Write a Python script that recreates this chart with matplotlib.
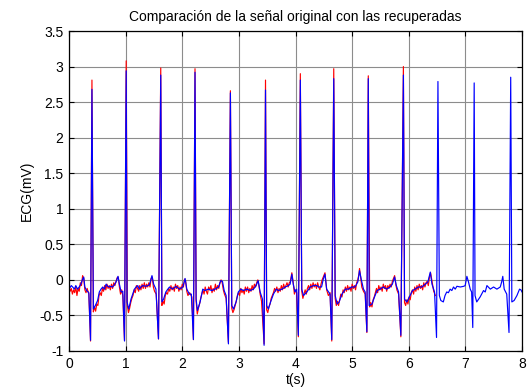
import matplotlib
matplotlib.use('Agg')
from matplotlib import pyplot as plt

# Blue: recovered ECG signal (t in s, amplitude in mV)
blue_t = [0.00, 0.04, 0.065, 0.095, 0.12, 0.15, 0.18, 0.21, 0.24, 0.26, 0.28, 0.31, 0.35, 0.38, 0.405,
          0.43, 0.465, 0.505, 0.535, 0.565, 0.595, 0.625, 0.655, 0.685, 0.71, 0.74, 0.77, 0.80, 0.83, 0.865,
          0.89, 0.92, 0.95, 0.98, 1.01,
          1.025, 1.055, 1.095, 1.125, 1.155, 1.185, 1.215, 1.24, 1.27, 1.30, 1.36, 1.42, 1.465, 1.495, 1.535,
          1.58, 1.62,
          1.64, 1.67, 1.71, 1.745, 1.775, 1.83, 1.89, 1.95, 2.01, 2.05, 2.08, 2.125, 2.16, 2.197, 2.225,
          2.244, 2.268, 2.315, 2.362, 2.40, 2.46, 2.52, 2.58, 2.64, 2.68, 2.71, 2.74, 2.774, 2.815, 2.85,
          2.874, 2.904, 2.95, 2.99, 3.033, 3.08, 3.14, 3.20, 3.257, 3.304, 3.34, 3.375, 3.416, 3.445, 3.47,
          3.49, 3.52, 3.56, 3.61, 3.66, 3.70, 3.76, 3.82, 3.875, 3.905, 3.935, 3.96, 3.99, 4.02, 4.05, 4.085,
          4.11, 4.14, 4.20, 4.26, 4.32, 4.38, 4.405, 4.46, 4.49, 4.52, 4.55, 4.61, 4.64, 4.675,
          4.70, 4.735, 4.77, 4.82, 4.88, 4.935, 4.99, 5.05, 5.10, 5.13, 5.16, 5.20, 5.23, 5.26, 5.285,
          5.30, 5.35, 5.395, 5.44, 5.495, 5.55, 5.61, 5.67, 5.71, 5.75, 5.78, 5.82, 5.86, 5.905,
          5.925, 5.965, 6.01, 6.065, 6.11, 6.17, 6.23, 6.29, 6.337, 6.38, 6.41, 6.455, 6.49, 6.515,
          6.54, 6.566, 6.61, 6.64, 6.67, 6.70, 6.73, 6.76, 6.79, 6.82, 6.85, 6.91, 6.97, 6.996, 7.026, 7.055,
          7.085, 7.11, 7.13, 7.155,
          7.17, 7.20, 7.26, 7.32, 7.35, 7.38, 7.44, 7.497, 7.556, 7.615, 7.64, 7.66, 7.685, 7.73, 7.77, 7.80,
          7.82, 7.86, 7.91, 7.956, 7.98, 8.00]
blue_v = [-0.13, -0.08, -0.10, -0.13, -0.08, -0.13, -0.10, -0.06, 0.01, 0.04, -0.10, -0.15, -0.18, -0.85, 2.68,
          -0.41, -0.36, -0.29, -0.17, -0.13, -0.10, -0.13, -0.06, -0.09, -0.10, -0.09, -0.10, -0.07, -0.03, 0.05,
          -0.06, -0.17, -0.16, -0.86, 2.94,
          -0.31, -0.41, -0.27, -0.20, -0.13, -0.10, -0.08, -0.13, -0.10, -0.08, -0.09, -0.07, 0.06, -0.06, -0.13,
          -0.83, 2.88,
          -0.31, -0.27, -0.17, -0.13, -0.10, -0.13, -0.09, -0.13, -0.10, 0.02, -0.13, -0.20, -0.20, -0.84, 2.92,
          -0.27, -0.43, -0.31, -0.13, -0.15, -0.13, -0.15, -0.13, -0.10, -0.01, -0.02, -0.15, -0.22, -0.90, 2.63,
          -0.36, -0.41, -0.31, -0.17, -0.13, -0.15, -0.13, -0.15, -0.13, -0.08, -0.01, -0.17, -0.27, -0.92, 2.67,
          -0.36, -0.41, -0.31, -0.20, -0.13, -0.15, -0.13, -0.10, -0.08, -0.06, 0.08, -0.06, -0.17, -0.13, -0.78, 2.81,
          -0.13, -0.22, -0.17, -0.10, -0.08, -0.08, -0.10, -0.10, 0.01, 0.08, -0.13, -0.20, -0.84, 2.83,
          -0.22, -0.34, -0.31, -0.20, -0.13, -0.13, -0.10, -0.10, -0.03, 0.13, 0.01, -0.13, -0.17, -0.73, 2.83,
          -0.36, -0.34, -0.24, -0.15, -0.13, -0.10, -0.13, -0.10, -0.06, 0.04, -0.08, -0.17, -0.78, 2.88,
          -0.27, -0.31, -0.24, -0.15, -0.13, -0.10, -0.10, -0.06, -0.03, 0.11, -0.06, -0.17, -0.81, 2.79,
          -0.22, -0.29, -0.31, -0.22, -0.17, -0.18, -0.13, -0.15, -0.10, -0.13, -0.09, -0.10, -0.09, -0.08, 0.05, -0.03,
          -0.13, -0.17, -0.67, 2.77,
          -0.22, -0.31, -0.24, -0.15, -0.17, -0.08, -0.13, -0.10, -0.13, -0.10, -0.03, 0.05, -0.13, -0.20, -0.74, 2.85,
          -0.31, -0.29, -0.22, -0.13, -0.14, -0.17]

# Red: original ECG signal, recorded up to about 6.5 s
red_t = [0.00, 0.02, 0.04, 0.06, 0.08, 0.10, 0.12, 0.14, 0.16, 0.18, 0.20, 0.22, 0.24, 0.26, 0.28, 0.30,
         0.32, 0.35, 0.38, 0.405,
         0.43, 0.45, 0.47, 0.49, 0.51, 0.53, 0.55, 0.57, 0.59, 0.61, 0.63, 0.65, 0.67, 0.69, 0.71, 0.73,
         0.75, 0.77, 0.79, 0.81, 0.83, 0.85, 0.87, 0.89, 0.91, 0.93, 0.95, 0.98, 1.01,
         1.03, 1.05, 1.07, 1.09, 1.11, 1.13, 1.15, 1.17, 1.19, 1.21, 1.23, 1.25, 1.27, 1.29, 1.31, 1.33,
         1.35, 1.37, 1.39, 1.41, 1.43, 1.45, 1.47, 1.49, 1.51, 1.54, 1.58, 1.62,
         1.64, 1.66, 1.68, 1.70, 1.72, 1.74, 1.76, 1.78, 1.80, 1.82, 1.84, 1.86, 1.88, 1.90, 1.92, 1.94,
         1.96, 1.98, 2.00, 2.02, 2.04, 2.06, 2.08, 2.10, 2.13, 2.17, 2.197, 2.225,
         2.245, 2.265, 2.285, 2.305, 2.325, 2.345, 2.365, 2.385, 2.405, 2.425, 2.445, 2.465, 2.485, 2.505,
         2.525, 2.545, 2.565, 2.585, 2.605, 2.625, 2.645, 2.665, 2.685, 2.705, 2.725, 2.745, 2.775, 2.815, 2.85,
         2.874, 2.894, 2.914, 2.934, 2.954, 2.974, 2.994, 3.014, 3.034, 3.054, 3.074, 3.094, 3.114, 3.134,
         3.154, 3.174, 3.194, 3.214, 3.234, 3.254, 3.274, 3.294, 3.314, 3.334, 3.354, 3.375, 3.40, 3.445, 3.47,
         3.49, 3.51, 3.53, 3.55, 3.57, 3.59, 3.61, 3.63, 3.65, 3.67, 3.69, 3.71, 3.73, 3.75, 3.77, 3.79,
         3.81, 3.83, 3.85, 3.87, 3.89, 3.91, 3.935, 3.96, 3.98, 4.00, 4.02, 4.05, 4.085,
         4.11, 4.13, 4.15, 4.17, 4.19, 4.21, 4.23, 4.25, 4.27, 4.29, 4.31, 4.33, 4.35, 4.37, 4.39, 4.41,
         4.43, 4.45, 4.47, 4.49, 4.52, 4.55, 4.58, 4.61, 4.64, 4.675,
         4.70, 4.72, 4.74, 4.76, 4.78, 4.80, 4.82, 4.84, 4.86, 4.88, 4.90, 4.92, 4.94, 4.96, 4.98, 5.00,
         5.02, 5.04, 5.06, 5.08, 5.10, 5.12, 5.13, 5.15, 5.17, 5.20, 5.23, 5.26, 5.285,
         5.31, 5.33, 5.35, 5.37, 5.39, 5.41, 5.43, 5.45, 5.47, 5.49, 5.51, 5.53, 5.55, 5.57, 5.59, 5.61,
         5.63, 5.65, 5.67, 5.69, 5.71, 5.73, 5.75, 5.77, 5.79, 5.82, 5.86, 5.905,
         5.925, 5.945, 5.965, 5.985, 6.005, 6.025, 6.045, 6.065, 6.085, 6.105, 6.125, 6.145, 6.165, 6.185,
         6.205, 6.225, 6.245, 6.265, 6.285, 6.305, 6.325, 6.345, 6.365, 6.385, 6.41, 6.44, 6.47]
red_v = [-0.10, -0.16, -0.12, -0.20, -0.14, -0.18, -0.10, -0.22, -0.12, -0.16, -0.04, -0.08, 0.06, 0.02, -0.14, -0.18,
         -0.12, -0.20, -0.86, 2.81,
         -0.45, -0.38, -0.44, -0.34, -0.36, -0.22, -0.18, -0.22, -0.12, -0.16, -0.08, -0.14, -0.06, -0.12, -0.08, -0.14,
         -0.06, -0.12, -0.04, -0.08, -0.02, 0.03, 0.04, -0.10, -0.20, -0.14, -0.22, -0.85, 3.08,
         -0.36, -0.46, -0.40, -0.32, -0.26, -0.22, -0.14, -0.18, -0.08, -0.12, -0.16, -0.08, -0.14, -0.06, -0.12, -0.04,
         -0.12, -0.06, -0.10, -0.04, -0.10, 0.02, 0.04, -0.10, -0.16, -0.20, -0.83, 2.98,
         -0.36, -0.30, -0.34, -0.22, -0.18, -0.20, -0.12, -0.16, -0.08, -0.14, -0.10, -0.16, -0.06, -0.12, -0.08, -0.16,
         -0.10, -0.14, -0.06, -0.10, 0.01, -0.02, -0.16, -0.22, -0.18, -0.24, -0.84, 2.97,
         -0.30, -0.48, -0.40, -0.34, -0.26, -0.20, -0.14, -0.20, -0.10, -0.16, -0.20, -0.10, -0.14, -0.08,
         -0.18, -0.12, -0.16, -0.06, -0.14, -0.08, -0.12, -0.04, 0.00, -0.04, -0.14, -0.20, -0.26, -0.88, 2.66,
         -0.40, -0.46, -0.42, -0.36, -0.30, -0.22, -0.18, -0.22, -0.12, -0.18, -0.14, -0.20, -0.10, -0.16,
         -0.10, -0.18, -0.12, -0.16, -0.08, -0.14, -0.06, -0.10, -0.04, 0.00, -0.08, -0.20, -0.30, -0.90, 2.81,
         -0.42, -0.46, -0.38, -0.34, -0.26, -0.22, -0.18, -0.12, -0.16, -0.10, -0.18, -0.12, -0.16, -0.08, -0.14, -0.06,
         -0.12, -0.08, -0.04, -0.10, -0.04, -0.02, 0.10, -0.04, -0.20, -0.14, -0.18, -0.80, 2.90,
         -0.16, -0.26, -0.20, -0.14, -0.20, -0.12, -0.08, -0.14, -0.06, -0.12, -0.04, -0.10, -0.06, -0.12, -0.04, -0.10,
         -0.14, -0.06, 0.00, 0.04, 0.10, -0.14, -0.22, -0.18, -0.86, 2.97,
         -0.26, -0.36, -0.30, -0.36, -0.28, -0.20, -0.24, -0.14, -0.18, -0.10, -0.16, -0.08, -0.14, -0.10, -0.16, -0.06,
         -0.12, -0.08, -0.14, -0.04, 0.00, 0.08, 0.16, 0.04, -0.10, -0.16, -0.20, -0.74, 2.87,
         -0.38, -0.32, -0.38, -0.28, -0.24, -0.18, -0.12, -0.18, -0.08, -0.14, -0.10, -0.16, -0.06, -0.12, -0.08, -0.16,
         -0.08, -0.12, -0.06, -0.10, -0.02, 0.02, 0.06, -0.06, -0.14, -0.20, -0.80, 3.00,
         -0.32, -0.36, -0.28, -0.34, -0.24, -0.28, -0.18, -0.14, -0.20, -0.10, -0.16, -0.08, -0.14, -0.06,
         -0.12, -0.08, -0.14, -0.04, -0.10, -0.04, -0.02, -0.08, 0.04, 0.10, -0.02, -0.16, -0.22]

x_ticks = [0, 1, 2, 3, 4, 5, 6, 7, 8]
y_ticks = [-1, -0.5, 0, 0.5, 1, 1.5, 2, 2.5, 3, 3.5]
y_tick_labels = ['-1', '-0.5', '0', '0.5', '1', '1.5', '2', '2.5', '3', '3.5']

plt.rcParams['font.family'] = ['Liberation Sans', 'DejaVu Sans']
plt.rcParams['font.size'] = 10

fig = plt.figure(figsize=(5.28, 3.92), dpi=100)
ax = fig.add_axes([0.1307, 0.1046, 0.858, 0.8163])

# original first, recovered drawn on top
ax.plot(red_t, red_v, color='r', linewidth=0.85)
ax.plot(blue_t, blue_v, color='b', linewidth=0.85)

ax.set_xlim(0, 8)
ax.set_ylim(-1, 3.5)
ax.set_xticks(x_ticks)
ax.set_yticks(y_ticks)
ax.set_yticklabels(y_tick_labels)
ax.grid(True, color='#8c8c8c', linewidth=0.8, linestyle='-')
ax.set_axisbelow(True)
ax.tick_params(direction='in', length=3.5, width=0.8, top=True, right=True, pad=4)
for s in ax.spines.values():
    s.set_linewidth(0.9)

ax.set_title('Comparación de la señal original con las recuperadas', fontsize=10, pad=7)
ax.set_xlabel('t(s)', labelpad=2)
ax.set_ylabel('ECG(mV)', labelpad=4)

fig.savefig('out.png', dpi=100)
